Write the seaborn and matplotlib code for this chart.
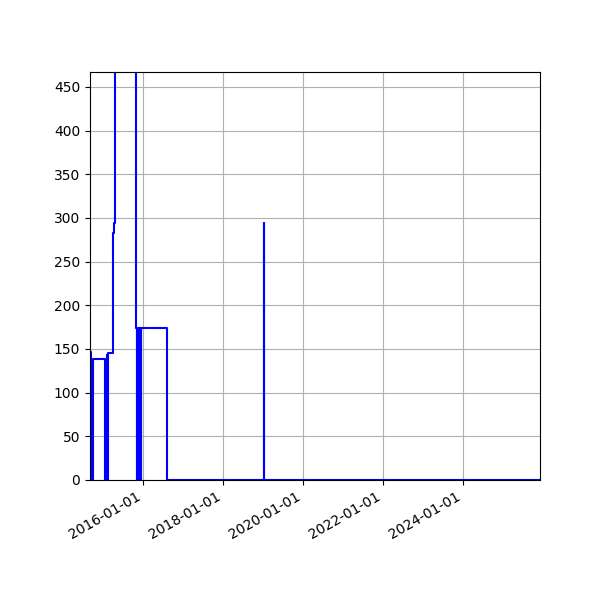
import matplotlib
matplotlib.use("Agg")
import matplotlib.pyplot as plt
import matplotlib.dates as mdates
import matplotlib.ticker as mticker
import pandas as pd
import seaborn as sns

# Step change points (value holds until the next date)
dates = [
    "2014-09-05", "2014-09-18", "2014-10-04", "2015-01-20", "2015-02-07",
    "2015-02-10", "2015-02-15", "2015-03-31", "2015-04-14", "2015-04-21",
    "2015-10-27", "2015-11-07", "2015-11-09", "2015-11-14", "2015-11-16",
    "2015-11-21", "2015-11-23", "2015-11-28", "2015-11-30", "2015-12-05",
    "2015-12-07", "2015-12-11", "2015-12-13", "2016-08-04", "2019-01-12",
    "2019-01-13", "2025-12-01",
]
values = [
    146, 0, 138, 0, 143,
    0, 145, 283, 294, 520,
    174, 0, 174, 0, 174,
    0, 174, 0, 174, 0,
    174, 0, 174, 0, 294,
    0, 0,
]
x_start = "2014-09-05"
x_end = "2025-12-01"
y_top = 467

df = pd.DataFrame({"date": pd.to_datetime(dates), "value": values})

fig, ax = plt.subplots(figsize=(6, 6), dpi=100)
sns.lineplot(data=df, x="date", y="value", ax=ax, color="blue",
             estimator=None, sort=False, drawstyle="steps-post", linewidth=1.5)

ax.set_xlim(pd.Timestamp(x_start), pd.Timestamp(x_end))
ax.set_ylim(0, y_top)
ax.yaxis.set_major_locator(mticker.MultipleLocator(50))
ax.xaxis.set_major_locator(mdates.YearLocator(2))
ax.xaxis.set_major_formatter(mdates.DateFormatter("%Y-%m-%d"))
ax.set_xlabel("")
ax.set_ylabel("")
ax.grid(True)
fig.autofmt_xdate()
fig.subplots_adjust(left=0.15, right=0.9, top=0.88, bottom=0.2)
fig.savefig("out.png", dpi=100)
